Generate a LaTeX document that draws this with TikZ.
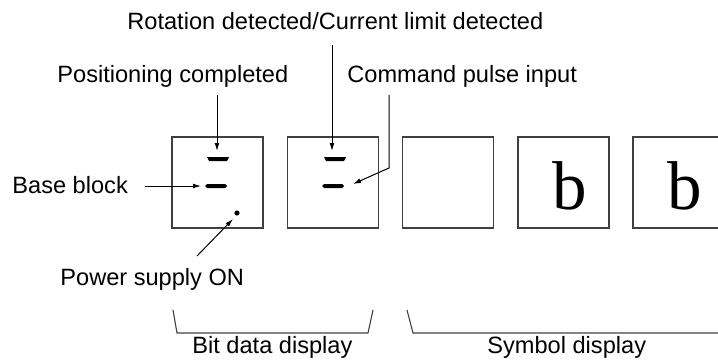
\documentclass[tikz,border=0pt]{standalone}
\usepackage{fontspec}
\setmainfont{Liberation Sans}
\newfontfamily\serifb{Liberation Serif}
\usetikzlibrary{arrows.meta}
\begin{document}
\begin{tikzpicture}[x=0.5pt,y=-0.5pt,
 dispbox/.style={draw=black!75,line width=0.6pt,minimum width=45.5pt,minimum height=45.5pt,inner sep=0pt},
 lbl/.style={font=\fontsize{11.8}{14}\selectfont,inner sep=0pt,anchor=base west},
 bigb/.style={font=\serifb\fontsize{34.5}{40}\selectfont,inner sep=0pt,anchor=base},
 ln/.style={line width=0.5pt,draw=black},
 arr/.style={ln,-{Latex[length=4pt,width=2.4pt]}},
 brk/.style={line width=0.55pt,draw=black!75},
 seg/.style={fill=black}]
\useasboundingbox (0,0) rectangle (718,364);
\clip (0,0) rectangle (718,364);
% display boxes
\node[dispbox] (d1) at (217.5,182.5) {};
\node[dispbox] (d2) at (333,182.5) {};
\node[dispbox] (d3) at (448,182.5) {};
\node[dispbox] (d4) at (563.5,182.5) {};
\node[dispbox] (d5) at (678.5,182.5) {};
\node[bigb] (b4) at (570,209) {b};
\node[bigb] (b5) at (685,209) {b};
% segments box 1
\fill[seg] (207,157) -- (229,157) -- (227,161) -- (209,161) -- cycle;
\fill[seg] (205,186) -- (207,184) -- (225,184) -- (227,186) -- (225,188) -- (207,188) -- cycle;
\fill[seg] (237,213) circle[radius=1.3pt];
% segments box 2
\fill[seg] (324,157) -- (346,157) -- (344,161) -- (326,161) -- cycle;
\fill[seg] (322,186) -- (324,184) -- (342,184) -- (344,186) -- (342,188) -- (324,188) -- cycle;
% labels
\node[lbl] (rot) at (127,29) {Rotation detected/Current limit detected};
\node[lbl] (pos) at (57,82) {Positioning completed};
\node[lbl] (cmd) at (347,82) {Command pulse input};
\node[lbl] (base) at (12,193) {Base block};
\node[lbl] (pwr) at (60,285) {Power supply ON};
\node[lbl] (bit) at (192,353) {Bit data display};
\node[lbl] (sym) at (487,353) {Symbol display};
% connector coordinates
\coordinate (posS) at (217,95);
\coordinate (posE) at (217,151);
\coordinate (rotS) at (332,45);
\coordinate (rotE) at (332,151);
\coordinate (cmdS) at (389,95);
\coordinate (cmdK) at (389,168);
\coordinate (cmdE) at (353,184);
\coordinate (baseS) at (145,186);
\coordinate (baseE) at (201,186);
\coordinate (pwrS) at (197,256);
\coordinate (pwrE) at (233,219);
\draw[arr] (posS) -- (posE);
\draw[arr] (rotS) -- (rotE);
\draw[arr] (cmdS) -- (cmdK) -- (cmdE);
\draw[arr] (baseS) -- (baseE);
\draw[arr] (pwrS) -- (pwrE);
% brackets
\coordinate (b1a) at (173,310);
\coordinate (b1b) at (177,333);
\coordinate (b1c) at (368,333);
\coordinate (b1d) at (373,310);
\coordinate (b2a) at (407,310);
\coordinate (b2b) at (413,333);
\coordinate (b2c) at (722,333);
\draw[brk] (b1a) -- (b1b) -- (b1c) -- (b1d);
\draw[brk] (b2a) -- (b2b) -- (b2c);
\end{tikzpicture}
\end{document}
